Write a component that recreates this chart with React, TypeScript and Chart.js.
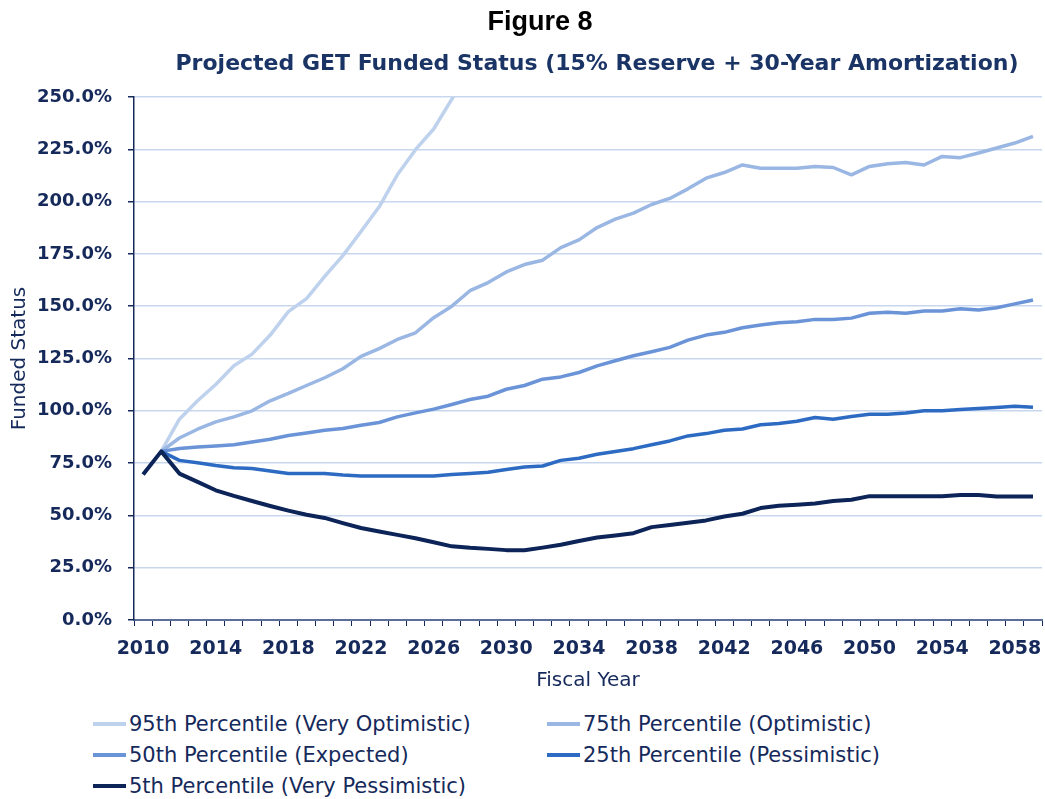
import React, { useEffect, useRef } from "react";
import { Chart, registerables } from "chart.js";

Chart.register(...registerables);

const years: string[] = [
  "2010","2011","2012","2013","2014","2015","2016","2017","2018","2019",
  "2020","2021","2022","2023","2024","2025","2026","2027","2028","2029",
  "2030","2031","2032","2033","2034","2035","2036","2037","2038","2039",
  "2040","2041","2042","2043","2044","2045","2046","2047","2048","2049",
  "2050","2051","2052","2053","2054","2055","2056","2057","2058","2059",
];

const p95: (number | null)[] = [
  null, 80.6, 96.0, 104.8, 112.6, 121.5, 127.1, 136.2, 147.4, 153.6,
  164.3, 174.2, 185.7, 197.5, 212.8, 224.8, 234.7, 249.0, 263.0, null,
  null, null, null, null, null, null, null, null, null, null,
  null, null, null, null, null, null, null, null, null, null,
  null, null, null, null, null, null, null, null, null, null,
];

const p75: (number | null)[] = [
  null, 80.6, 87.0, 91.2, 94.7, 97.1, 100.0, 104.8, 108.3, 112.1,
  115.8, 120.1, 126.0, 129.7, 134.1, 137.3, 144.5, 150.0, 157.4, 161.3,
  166.4, 169.9, 172.0, 178.0, 181.7, 187.6, 191.6, 194.5, 198.6, 201.5,
  206.1, 211.2, 213.9, 217.5, 215.9, 215.9, 215.9, 216.8, 216.3, 212.8,
  216.8, 218.1, 218.7, 217.5, 221.6, 221.0, 223.2, 225.6, 228.0, 231.2,
];

const p50: (number | null)[] = [
  null, 80.6, 82.0, 82.7, 83.2, 83.8, 85.1, 86.4, 88.2, 89.4,
  90.7, 91.5, 93.1, 94.4, 97.1, 99.0, 100.8, 103.0, 105.4, 107.0,
  110.3, 112.1, 115.1, 116.2, 118.3, 121.5, 123.9, 126.3, 128.2, 130.3,
  133.8, 136.2, 137.5, 139.7, 141.0, 142.1, 142.6, 143.7, 143.7, 144.3,
  146.6, 147.1, 146.6, 147.7, 147.7, 148.8, 148.2, 149.3, 151.1, 153.0,
];

const p25: (number | null)[] = [
  null, 80.6, 76.3, 75.2, 73.9, 72.8, 72.4, 71.2, 70.0, 70.0,
  70.0, 69.3, 68.8, 68.8, 68.8, 68.8, 68.8, 69.5, 70.0, 70.6,
  71.9, 73.1, 73.6, 76.3, 77.3, 79.2, 80.5, 81.9, 83.8, 85.6,
  88.0, 89.1, 90.7, 91.3, 93.3, 93.9, 95.0, 96.8, 96.0, 97.3,
  98.4, 98.4, 98.9, 100.0, 100.0, 100.6, 101.1, 101.6, 102.2, 101.7,
];

const p5: (number | null)[] = [
  69.5, 80.6, 70.0, 66.0, 62.0, 59.3, 56.9, 54.5, 52.3, 50.3,
  48.8, 46.3, 44.0, 42.3, 40.7, 39.1, 37.2, 35.2, 34.5, 34.0,
  33.4, 33.3, 34.6, 36.0, 37.8, 39.4, 40.4, 41.5, 44.4, 45.4,
  46.5, 47.6, 49.5, 50.8, 53.5, 54.6, 55.1, 55.7, 56.9, 57.5,
  59.2, 59.2, 59.2, 59.2, 59.2, 59.7, 59.7, 59.0, 59.0, 59.0,
];

const seriesNames: string[] = [
  "95th Percentile (Very Optimistic)",
  "75th Percentile (Optimistic)",
  "50th Percentile (Expected)",
  "25th Percentile (Pessimistic)",
  "5th Percentile (Very Pessimistic)",
];

const seriesColors: string[] = ["#bed1ed", "#9ab7e4", "#6a94d7", "#2d6bc3", "#0c2458"];

const NAVY = "#15295b";

export default function App() {
  const ref = useRef<HTMLCanvasElement | null>(null);

  useEffect(() => {
    if (!ref.current) return;
    const all = [p95, p75, p50, p25, p5];
    const chart = new Chart(ref.current, {
      type: "line",
      data: {
        labels: years,
        datasets: all.map((d, i) => ({
          label: seriesNames[i],
          data: d,
          borderColor: seriesColors[i],
          backgroundColor: seriesColors[i],
          borderWidth: i === 4 ? 4 : 3.5,
          pointRadius: 0,
          tension: 0,
          fill: false,
          spanGaps: false,
          borderJoinStyle: "round" as const,
          order: 5 - i,
        })),
      },
      options: {
        responsive: false,
        animation: false,
        layout: { autoPadding: false, padding: { top: 97, right: 1, bottom: 7, left: 0 } },
        plugins: {
          legend: { display: false },
          tooltip: { enabled: false },
          title: { display: false },
        },
        scales: {
          x: {
            type: "category",
            offset: true,
            afterFit: (s: any) => {
              s.height = 73;
            },
            grid: {
              display: true,
              drawOnChartArea: false,
              drawTicks: true,
              tickLength: 6,
              tickColor: NAVY,
              offset: true,
              lineWidth: 1,
            },
            border: { display: true, color: "#5a6e98", width: 2 },
            ticks: {
              autoSkip: false,
              maxRotation: 0,
              minRotation: 0,
              padding: 12,
              color: NAVY,
              font: { family: "DejaVu Sans", size: 19, weight: "bold" },
              callback: (_v: any, idx: number) => (idx % 4 === 0 ? years[idx] : ""),
            },
            title: {
              display: true,
              text: "Fiscal Year",
              color: NAVY,
              font: { family: "DejaVu Sans", size: 20 },
              padding: { top: 0, bottom: 0 },
            },
          },
          y: {
            min: 0,
            max: 250,
            afterFit: (s: any) => {
              s.width = 134;
            },
            grid: {
              color: "#c8d7ee",
              lineWidth: 1.5,
              tickColor: NAVY,
              tickLength: 6,
              drawTicks: true,
            },
            border: { display: true, color: NAVY, width: 1.5 },
            ticks: {
              stepSize: 25,
              padding: 16,
              color: NAVY,
              font: { family: "DejaVu Sans", size: 18, weight: "bold" },
              callback: (v: any) => Number(v).toFixed(1) + "%",
            },
            title: {
              display: true,
              text: "Funded Status",
              color: NAVY,
              font: { family: "DejaVu Sans", size: 20 },
              padding: { top: 8, bottom: 0 },
            },
          },
        },
      },
    });
    return () => chart.destroy();
  }, []);

  const legendPos = [
    { left: 93, top: 724 },
    { left: 547, top: 724 },
    { left: 93, top: 755 },
    { left: 547, top: 755 },
    { left: 93, top: 786 },
  ];

  return (
    <div style={{ position: "absolute", left: 0, top: 0, width: 1045, height: 799, background: "#fff", overflow: "hidden" }}>
      <canvas ref={ref} width={1045} height={700} style={{ position: "absolute", left: 0, top: 0, width: 1045, height: 700 }} />
      <div
        style={{
          position: "absolute", left: 390, top: 4, width: 300, textAlign: "center",
          fontFamily: "'Liberation Sans', Arial, sans-serif", fontWeight: "bold", fontSize: 27, lineHeight: "34px", color: "#000",
        }}
      >
        Figure 8
      </div>
      <div
        style={{
          position: "absolute", left: 97, top: 47, width: 1000, textAlign: "center",
          fontFamily: "'DejaVu Sans', sans-serif", fontWeight: "bold", fontSize: 22, lineHeight: "32px", color: "#1b3466",
          whiteSpace: "nowrap",
        }}
      >
        Projected GET Funded Status (15% Reserve + 30-Year Amortization)
      </div>
      {seriesNames.map((n, i) => (
        <div
          key={n}
          style={{
            position: "absolute", left: legendPos[i].left, top: legendPos[i].top - 14, height: 28,
            display: "flex", alignItems: "center", whiteSpace: "nowrap",
            fontFamily: "'DejaVu Sans', sans-serif", fontSize: 21, color: NAVY,
          }}
        >
          <span style={{ display: "inline-block", width: 33, height: 4, background: seriesColors[i], marginRight: 3 }} />
          <span>{n}</span>
        </div>
      ))}
    </div>
  );
}
